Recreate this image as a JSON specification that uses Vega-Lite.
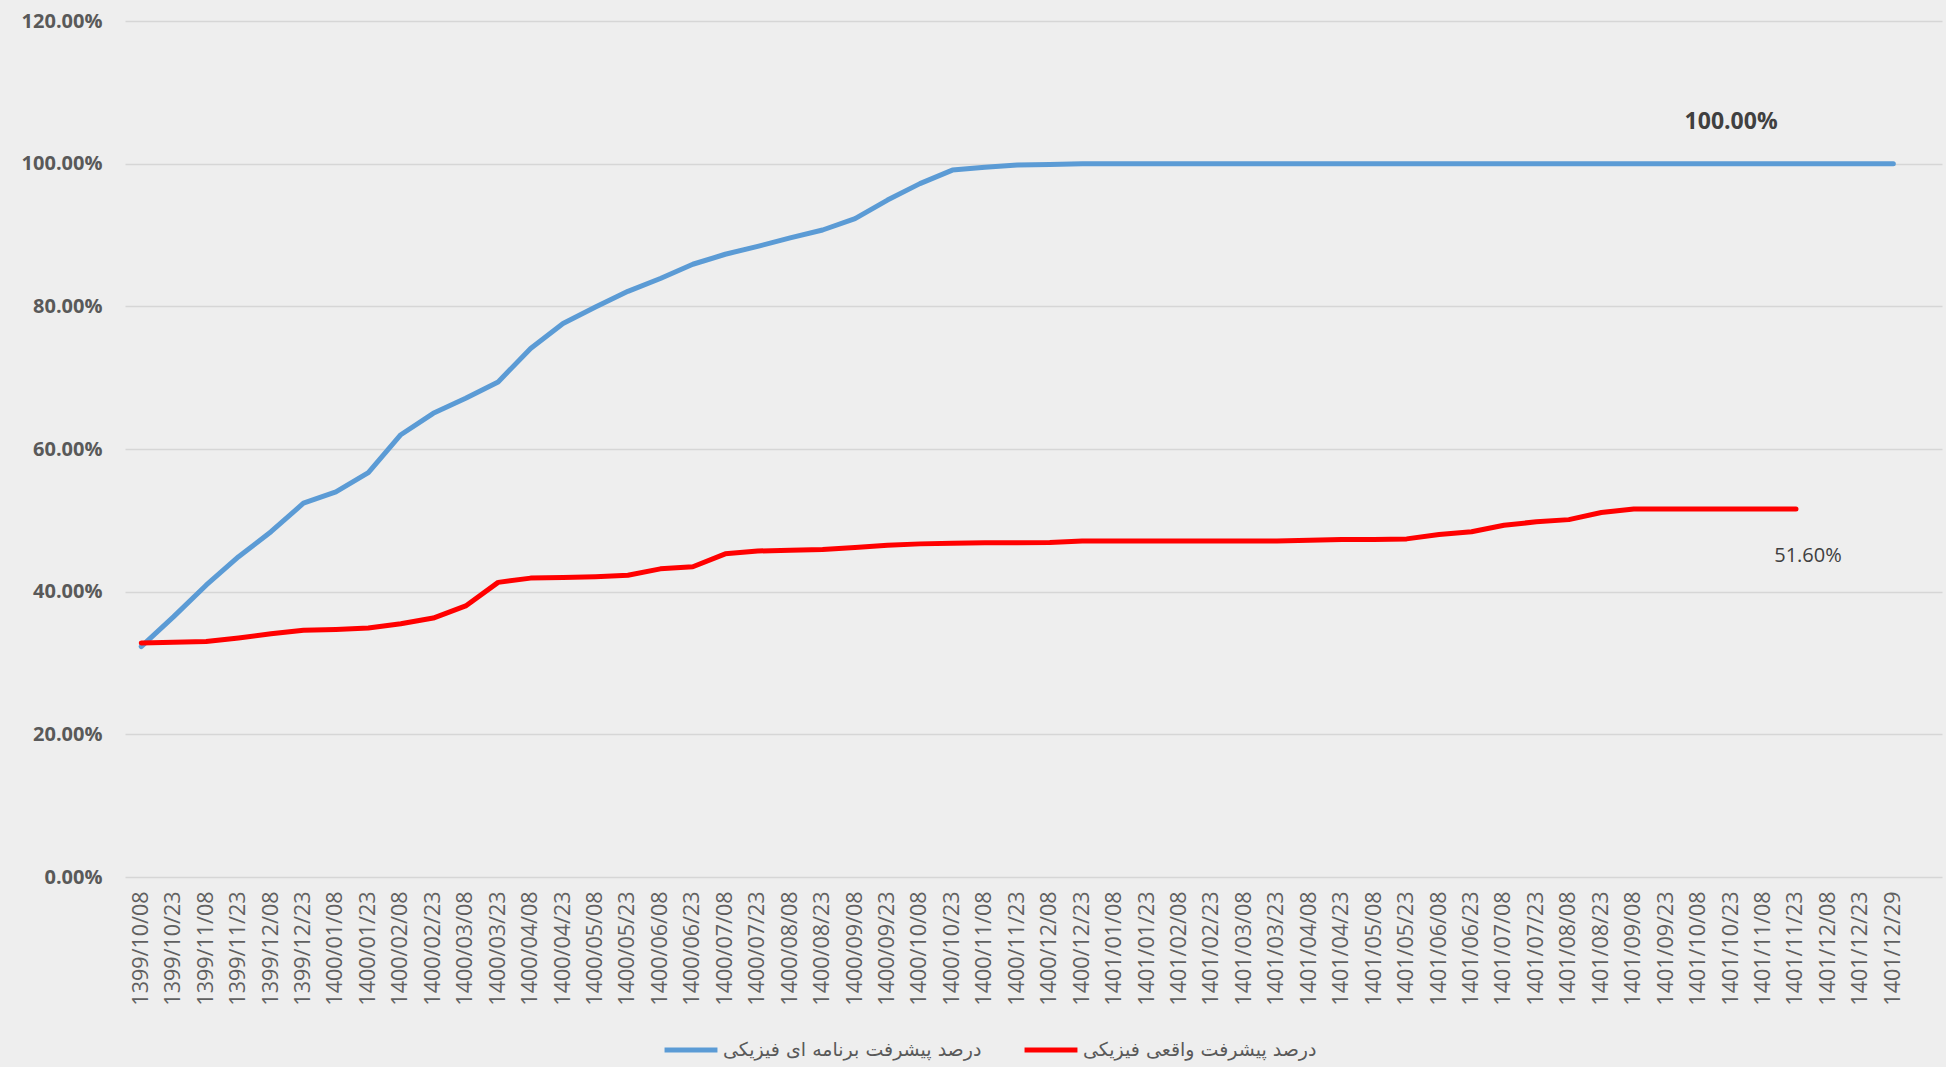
{
  "$schema": "https://vega.github.io/schema/vega-lite/v6.json",
  "width": 1817,
  "height": 856,
  "autosize": {"type": "none"},
  "padding": {"left": 125, "top": 21, "right": 4, "bottom": 190},
  "background": "#eeeeee",
  "config": {
    "view": {"stroke": null},
    "font": "Open Sans"
  },
  "data": {
    "values": [
      {"date": "1399/10/08", "series": "درصد پیشرفت برنامه ای فیزیکی", "value": 0.323},
      {"date": "1399/10/23", "series": "درصد پیشرفت برنامه ای فیزیکی", "value": 0.365},
      {"date": "1399/11/08", "series": "درصد پیشرفت برنامه ای فیزیکی", "value": 0.409},
      {"date": "1399/11/23", "series": "درصد پیشرفت برنامه ای فیزیکی", "value": 0.449},
      {"date": "1399/12/08", "series": "درصد پیشرفت برنامه ای فیزیکی", "value": 0.484},
      {"date": "1399/12/23", "series": "درصد پیشرفت برنامه ای فیزیکی", "value": 0.524},
      {"date": "1400/01/08", "series": "درصد پیشرفت برنامه ای فیزیکی", "value": 0.540},
      {"date": "1400/01/23", "series": "درصد پیشرفت برنامه ای فیزیکی", "value": 0.567},
      {"date": "1400/02/08", "series": "درصد پیشرفت برنامه ای فیزیکی", "value": 0.620},
      {"date": "1400/02/23", "series": "درصد پیشرفت برنامه ای فیزیکی", "value": 0.650},
      {"date": "1400/03/08", "series": "درصد پیشرفت برنامه ای فیزیکی", "value": 0.671},
      {"date": "1400/03/23", "series": "درصد پیشرفت برنامه ای فیزیکی", "value": 0.694},
      {"date": "1400/04/08", "series": "درصد پیشرفت برنامه ای فیزیکی", "value": 0.741},
      {"date": "1400/04/23", "series": "درصد پیشرفت برنامه ای فیزیکی", "value": 0.776},
      {"date": "1400/05/08", "series": "درصد پیشرفت برنامه ای فیزیکی", "value": 0.799},
      {"date": "1400/05/23", "series": "درصد پیشرفت برنامه ای فیزیکی", "value": 0.821},
      {"date": "1400/06/08", "series": "درصد پیشرفت برنامه ای فیزیکی", "value": 0.839},
      {"date": "1400/06/23", "series": "درصد پیشرفت برنامه ای فیزیکی", "value": 0.859},
      {"date": "1400/07/08", "series": "درصد پیشرفت برنامه ای فیزیکی", "value": 0.873},
      {"date": "1400/07/23", "series": "درصد پیشرفت برنامه ای فیزیکی", "value": 0.884},
      {"date": "1400/08/08", "series": "درصد پیشرفت برنامه ای فیزیکی", "value": 0.896},
      {"date": "1400/08/23", "series": "درصد پیشرفت برنامه ای فیزیکی", "value": 0.907},
      {"date": "1400/09/08", "series": "درصد پیشرفت برنامه ای فیزیکی", "value": 0.923},
      {"date": "1400/09/23", "series": "درصد پیشرفت برنامه ای فیزیکی", "value": 0.949},
      {"date": "1400/10/08", "series": "درصد پیشرفت برنامه ای فیزیکی", "value": 0.972},
      {"date": "1400/10/23", "series": "درصد پیشرفت برنامه ای فیزیکی", "value": 0.991},
      {"date": "1400/11/08", "series": "درصد پیشرفت برنامه ای فیزیکی", "value": 0.995},
      {"date": "1400/11/23", "series": "درصد پیشرفت برنامه ای فیزیکی", "value": 0.998},
      {"date": "1400/12/08", "series": "درصد پیشرفت برنامه ای فیزیکی", "value": 0.999},
      {"date": "1400/12/23", "series": "درصد پیشرفت برنامه ای فیزیکی", "value": 1.0},
      {"date": "1401/01/08", "series": "درصد پیشرفت برنامه ای فیزیکی", "value": 1.0},
      {"date": "1401/01/23", "series": "درصد پیشرفت برنامه ای فیزیکی", "value": 1.0},
      {"date": "1401/02/08", "series": "درصد پیشرفت برنامه ای فیزیکی", "value": 1.0},
      {"date": "1401/02/23", "series": "درصد پیشرفت برنامه ای فیزیکی", "value": 1.0},
      {"date": "1401/03/08", "series": "درصد پیشرفت برنامه ای فیزیکی", "value": 1.0},
      {"date": "1401/03/23", "series": "درصد پیشرفت برنامه ای فیزیکی", "value": 1.0},
      {"date": "1401/04/08", "series": "درصد پیشرفت برنامه ای فیزیکی", "value": 1.0},
      {"date": "1401/04/23", "series": "درصد پیشرفت برنامه ای فیزیکی", "value": 1.0},
      {"date": "1401/05/08", "series": "درصد پیشرفت برنامه ای فیزیکی", "value": 1.0},
      {"date": "1401/05/23", "series": "درصد پیشرفت برنامه ای فیزیکی", "value": 1.0},
      {"date": "1401/06/08", "series": "درصد پیشرفت برنامه ای فیزیکی", "value": 1.0},
      {"date": "1401/06/23", "series": "درصد پیشرفت برنامه ای فیزیکی", "value": 1.0},
      {"date": "1401/07/08", "series": "درصد پیشرفت برنامه ای فیزیکی", "value": 1.0},
      {"date": "1401/07/23", "series": "درصد پیشرفت برنامه ای فیزیکی", "value": 1.0},
      {"date": "1401/08/08", "series": "درصد پیشرفت برنامه ای فیزیکی", "value": 1.0},
      {"date": "1401/08/23", "series": "درصد پیشرفت برنامه ای فیزیکی", "value": 1.0},
      {"date": "1401/09/08", "series": "درصد پیشرفت برنامه ای فیزیکی", "value": 1.0},
      {"date": "1401/09/23", "series": "درصد پیشرفت برنامه ای فیزیکی", "value": 1.0},
      {"date": "1401/10/08", "series": "درصد پیشرفت برنامه ای فیزیکی", "value": 1.0},
      {"date": "1401/10/23", "series": "درصد پیشرفت برنامه ای فیزیکی", "value": 1.0},
      {"date": "1401/11/08", "series": "درصد پیشرفت برنامه ای فیزیکی", "value": 1.0},
      {"date": "1401/11/23", "series": "درصد پیشرفت برنامه ای فیزیکی", "value": 1.0},
      {"date": "1401/12/08", "series": "درصد پیشرفت برنامه ای فیزیکی", "value": 1.0},
      {"date": "1401/12/23", "series": "درصد پیشرفت برنامه ای فیزیکی", "value": 1.0},
      {"date": "1401/12/29", "series": "درصد پیشرفت برنامه ای فیزیکی", "value": 1.0},
      {"date": "1399/10/08", "series": "درصد پیشرفت واقعی فیزیکی", "value": 0.328},
      {"date": "1399/10/23", "series": "درصد پیشرفت واقعی فیزیکی", "value": 0.329},
      {"date": "1399/11/08", "series": "درصد پیشرفت واقعی فیزیکی", "value": 0.330},
      {"date": "1399/11/23", "series": "درصد پیشرفت واقعی فیزیکی", "value": 0.335},
      {"date": "1399/12/08", "series": "درصد پیشرفت واقعی فیزیکی", "value": 0.341},
      {"date": "1399/12/23", "series": "درصد پیشرفت واقعی فیزیکی", "value": 0.346},
      {"date": "1400/01/08", "series": "درصد پیشرفت واقعی فیزیکی", "value": 0.347},
      {"date": "1400/01/23", "series": "درصد پیشرفت واقعی فیزیکی", "value": 0.349},
      {"date": "1400/02/08", "series": "درصد پیشرفت واقعی فیزیکی", "value": 0.355},
      {"date": "1400/02/23", "series": "درصد پیشرفت واقعی فیزیکی", "value": 0.363},
      {"date": "1400/03/08", "series": "درصد پیشرفت واقعی فیزیکی", "value": 0.380},
      {"date": "1400/03/23", "series": "درصد پیشرفت واقعی فیزیکی", "value": 0.413},
      {"date": "1400/04/08", "series": "درصد پیشرفت واقعی فیزیکی", "value": 0.419},
      {"date": "1400/04/23", "series": "درصد پیشرفت واقعی فیزیکی", "value": 0.420},
      {"date": "1400/05/08", "series": "درصد پیشرفت واقعی فیزیکی", "value": 0.421},
      {"date": "1400/05/23", "series": "درصد پیشرفت واقعی فیزیکی", "value": 0.423},
      {"date": "1400/06/08", "series": "درصد پیشرفت واقعی فیزیکی", "value": 0.432},
      {"date": "1400/06/23", "series": "درصد پیشرفت واقعی فیزیکی", "value": 0.435},
      {"date": "1400/07/08", "series": "درصد پیشرفت واقعی فیزیکی", "value": 0.453},
      {"date": "1400/07/23", "series": "درصد پیشرفت واقعی فیزیکی", "value": 0.457},
      {"date": "1400/08/08", "series": "درصد پیشرفت واقعی فیزیکی", "value": 0.458},
      {"date": "1400/08/23", "series": "درصد پیشرفت واقعی فیزیکی", "value": 0.459},
      {"date": "1400/09/08", "series": "درصد پیشرفت واقعی فیزیکی", "value": 0.462},
      {"date": "1400/09/23", "series": "درصد پیشرفت واقعی فیزیکی", "value": 0.465},
      {"date": "1400/10/08", "series": "درصد پیشرفت واقعی فیزیکی", "value": 0.467},
      {"date": "1400/10/23", "series": "درصد پیشرفت واقعی فیزیکی", "value": 0.468},
      {"date": "1400/11/08", "series": "درصد پیشرفت واقعی فیزیکی", "value": 0.4685},
      {"date": "1400/11/23", "series": "درصد پیشرفت واقعی فیزیکی", "value": 0.4685},
      {"date": "1400/12/08", "series": "درصد پیشرفت واقعی فیزیکی", "value": 0.469},
      {"date": "1400/12/23", "series": "درصد پیشرفت واقعی فیزیکی", "value": 0.471},
      {"date": "1401/01/08", "series": "درصد پیشرفت واقعی فیزیکی", "value": 0.471},
      {"date": "1401/01/23", "series": "درصد پیشرفت واقعی فیزیکی", "value": 0.471},
      {"date": "1401/02/08", "series": "درصد پیشرفت واقعی فیزیکی", "value": 0.471},
      {"date": "1401/02/23", "series": "درصد پیشرفت واقعی فیزیکی", "value": 0.471},
      {"date": "1401/03/08", "series": "درصد پیشرفت واقعی فیزیکی", "value": 0.471},
      {"date": "1401/03/23", "series": "درصد پیشرفت واقعی فیزیکی", "value": 0.471},
      {"date": "1401/04/08", "series": "درصد پیشرفت واقعی فیزیکی", "value": 0.472},
      {"date": "1401/04/23", "series": "درصد پیشرفت واقعی فیزیکی", "value": 0.473},
      {"date": "1401/05/08", "series": "درصد پیشرفت واقعی فیزیکی", "value": 0.473},
      {"date": "1401/05/23", "series": "درصد پیشرفت واقعی فیزیکی", "value": 0.474},
      {"date": "1401/06/08", "series": "درصد پیشرفت واقعی فیزیکی", "value": 0.480},
      {"date": "1401/06/23", "series": "درصد پیشرفت واقعی فیزیکی", "value": 0.484},
      {"date": "1401/07/08", "series": "درصد پیشرفت واقعی فیزیکی", "value": 0.493},
      {"date": "1401/07/23", "series": "درصد پیشرفت واقعی فیزیکی", "value": 0.498},
      {"date": "1401/08/08", "series": "درصد پیشرفت واقعی فیزیکی", "value": 0.501},
      {"date": "1401/08/23", "series": "درصد پیشرفت واقعی فیزیکی", "value": 0.511},
      {"date": "1401/09/08", "series": "درصد پیشرفت واقعی فیزیکی", "value": 0.516},
      {"date": "1401/09/23", "series": "درصد پیشرفت واقعی فیزیکی", "value": 0.516},
      {"date": "1401/10/08", "series": "درصد پیشرفت واقعی فیزیکی", "value": 0.516},
      {"date": "1401/10/23", "series": "درصد پیشرفت واقعی فیزیکی", "value": 0.516},
      {"date": "1401/11/08", "series": "درصد پیشرفت واقعی فیزیکی", "value": 0.516},
      {"date": "1401/11/23", "series": "درصد پیشرفت واقعی فیزیکی", "value": 0.516}
    ]
  },
  "encoding": {
    "x": {
      "field": "date",
      "type": "ordinal",
      "sort": null,
      "scale": {
        "type": "point",
        "padding": 0.5,
        "domain": ["1399/10/08","1399/10/23","1399/11/08","1399/11/23","1399/12/08","1399/12/23","1400/01/08","1400/01/23","1400/02/08","1400/02/23","1400/03/08","1400/03/23","1400/04/08","1400/04/23","1400/05/08","1400/05/23","1400/06/08","1400/06/23","1400/07/08","1400/07/23","1400/08/08","1400/08/23","1400/09/08","1400/09/23","1400/10/08","1400/10/23","1400/11/08","1400/11/23","1400/12/08","1400/12/23","1401/01/08","1401/01/23","1401/02/08","1401/02/23","1401/03/08","1401/03/23","1401/04/08","1401/04/23","1401/05/08","1401/05/23","1401/06/08","1401/06/23","1401/07/08","1401/07/23","1401/08/08","1401/08/23","1401/09/08","1401/09/23","1401/10/08","1401/10/23","1401/11/08","1401/11/23","1401/12/08","1401/12/23","1401/12/29"," "]
      },
      "axis": {
        "title": null,
        "labelAngle": 270,
        "labelFont": "Open Sans",
        "labelFontSize": 21.5,
        "labelColor": "#606060",
        "labelPadding": 14,
        "ticks": false,
        "domain": false,
        "grid": false,
        "labelOverlap": false
      }
    },
    "y": {
      "field": "value",
      "type": "quantitative",
      "scale": {"domain": [0, 1.2], "nice": false, "zero": true},
      "axis": {
        "title": null,
        "values": [0, 0.2, 0.4, 0.6, 0.8, 1.0, 1.2],
        "format": ".2%",
        "labelFont": "Open Sans",
        "labelFontSize": 20,
        "labelFontWeight": "bold",
        "labelColor": "#595959",
        "labelPadding": 23,
        "ticks": false,
        "domain": false,
        "gridColor": "#d6d6d6",
        "gridWidth": 1.5
      }
    }
  },
  "layer": [
    {
      "mark": {"type": "line", "strokeWidth": 5, "strokeCap": "round", "strokeJoin": "round"},
      "encoding": {
        "color": {
          "field": "series",
          "type": "nominal",
          "scale": {
            "domain": ["درصد پیشرفت برنامه ای فیزیکی", "درصد پیشرفت واقعی فیزیکی"],
            "range": ["#5B9BD5", "#FF0000"]
          },
          "legend": {
            "title": null,
            "orient": "none",
            "legendX": 537,
            "legendY": 1000,
            "direction": "horizontal",
            "symbolType": "stroke",
            "symbolStrokeWidth": 5,
            "symbolSize": 2800,
            "labelFont": "DejaVu Sans",
            "labelFontSize": 19,
            "labelLimit": 500,
            "labelColor": "#595959",
            "columnPadding": 32,
            "labelOffset": 3
          }
        }
      }
    },
    {
      "transform": [{"filter": "datum.series === 'درصد پیشرفت برنامه ای فیزیکی' && datum.date === '1401/10/23'"}],
      "mark": {"type": "text", "dy": -42, "fontSize": 23, "fontWeight": "bold", "color": "#404040", "font": "Open Sans"},
      "encoding": {"text": {"field": "value", "type": "quantitative", "format": ".2%"}}
    },
    {
      "transform": [{"filter": "datum.series === 'درصد پیشرفت واقعی فیزیکی' && datum.date === '1401/11/23'"}],
      "mark": {"type": "text", "dy": 47, "dx": 12, "fontSize": 20, "color": "#404040", "font": "Open Sans"},
      "encoding": {"text": {"field": "value", "type": "quantitative", "format": ".2%"}}
    }
  ]
}
